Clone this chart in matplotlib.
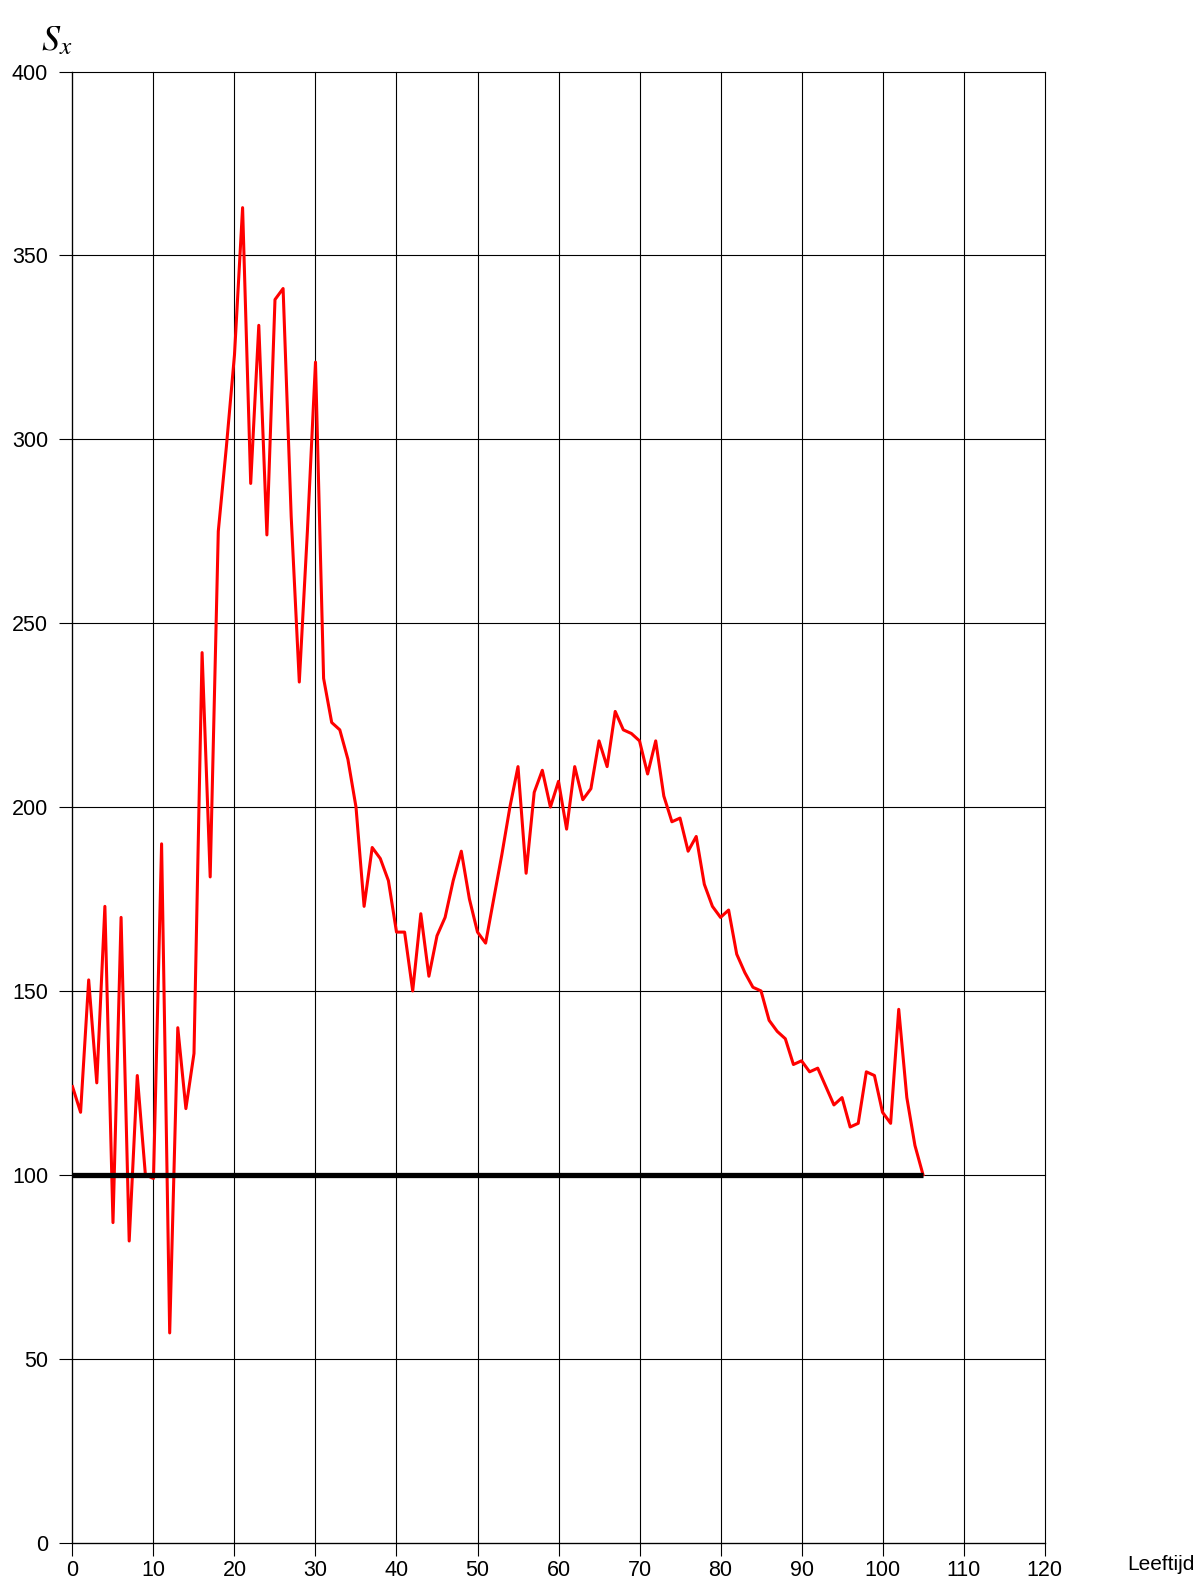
import matplotlib
matplotlib.use("Agg")
import matplotlib.pyplot as plt
import numpy as np

plt.rcParams["font.family"] = ["Liberation Sans", "DejaVu Sans"]
plt.rcParams["mathtext.fontset"] = "stix"

# ages 0..105 and the S_x value per age
ages = np.arange(0, 106)
s_x = [
    124, 117, 153, 125, 173, 87, 170, 82, 127, 100,
    99, 190, 57, 140, 118, 133, 242, 181, 275, 298,
    323, 363, 288, 331, 274, 338, 341, 279, 234, 275,
    321, 235, 223, 221, 213, 200, 173, 189, 186, 180,
    166, 166, 150, 171, 154, 165, 170, 180, 188, 175,
    166, 163, 175, 187, 200, 211, 182, 204, 210, 200,
    207, 194, 211, 202, 205, 218, 211, 226, 221, 220,
    218, 209, 218, 203, 196, 197, 188, 192, 179, 173,
    170, 172, 160, 155, 151, 150, 142, 139, 137, 130,
    131, 128, 129, 124, 119, 121, 113, 114, 128, 127,
    117, 114, 145, 121, 108, 100,
]
ref_level = 100
ref_ages = [0, 105]

fig = plt.figure(figsize=(12.02, 15.80), dpi=100)
ax = fig.add_axes([0.0603, 0.0237, 0.8087, 0.931])

ax.plot(ages, s_x, color="#ff0000", linewidth=2.2, zorder=3)
ax.plot(ref_ages, [ref_level, ref_level], color="black", linewidth=3.8,
        solid_capstyle="butt", zorder=4)

ax.set_xlim(0, 120)
ax.set_ylim(0, 400)
ax.set_xticks(np.arange(0, 121, 10))
ax.set_yticks(np.arange(0, 401, 50))
ax.grid(True, color="black", linewidth=0.8)
ax.set_axisbelow(True)
for gl in ax.get_xgridlines() + ax.get_ygridlines():
    gl.set_clip_on(False)
for side in ["top", "right"]:
    ax.spines[side].set_visible(False)
for side in ["left", "bottom"]:
    ax.spines[side].set_linewidth(0.9)
ax.tick_params(axis="both", labelsize=15.5, length=9.5, width=0.8, direction="out")
ax.tick_params(axis="y", pad=8)
ax.tick_params(axis="x", pad=3)

fig.text(0.9935, 0.0035, "Leeftijd", fontsize=15, ha="right", va="bottom")
fig.text(0.034, 0.974, r"$S_x$", fontsize=26, ha="left", va="center")

fig.savefig("out.png", dpi=100)
plt.close(fig)
